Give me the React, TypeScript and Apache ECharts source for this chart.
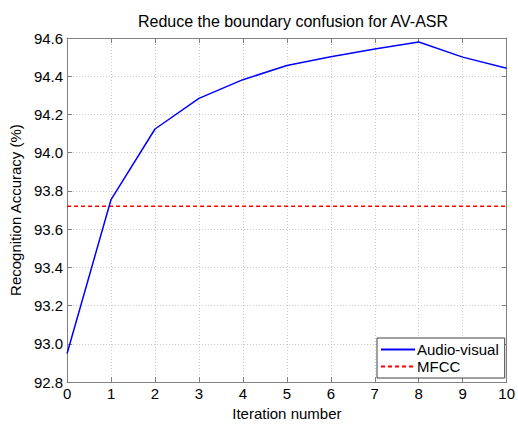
import React, { useEffect, useRef } from "react";
import * as echarts from "echarts";

const iterations = [0, 1, 2, 3, 4, 5, 6, 7, 8, 9, 10];
const audioVisual = [92.95, 93.755, 94.124, 94.284, 94.382, 94.456, 94.502, 94.542, 94.579, 94.5, 94.442];
const mfccValue = 93.72;
const seriesNames = ["Audio-visual", "MFCC"];
const titleText = "Reduce the boundary confusion for AV-ASR";
const xName = "Iteration number";
const yName = "Recognition Accuracy (%)";

const FONT = "Liberation Sans, Arial, sans-serif";

export default function App() {
  const ref = useRef<HTMLDivElement>(null);
  useEffect(() => {
    if (!ref.current) return;
    const chart = echarts.init(ref.current, null, { renderer: "svg" });
    const axisColor = "#808080";
    const gridLine = { show: true, lineStyle: { color: "#c8c8c8", type: [1, 2] as any, width: 1 } };
    const baseX = {
      type: "value" as const,
      min: 0,
      max: 10,
      interval: 1,
      axisLine: { show: true, onZero: false, lineStyle: { color: axisColor, width: 1 } },
      axisTick: { show: true, inside: true, length: 5, lineStyle: { color: axisColor } },
    };
    const baseY = {
      type: "value" as const,
      min: 92.8,
      max: 94.6,
      interval: 0.2,
      axisLine: { show: true, onZero: false, lineStyle: { color: axisColor, width: 1 } },
      axisTick: { show: true, inside: true, length: 5, lineStyle: { color: axisColor } },
    };
    chart.setOption({
      animation: false,
      backgroundColor: "#ffffff",
      textStyle: { fontFamily: FONT },
      title: {
        text: titleText,
        left: 288,
        textAlign: "center",
        top: 8,
        textStyle: { fontFamily: FONT, fontSize: 16, fontWeight: "normal", color: "#000" },
      },
      grid: { left: 65, right: 6, top: 38, bottom: 39, containLabel: false },
      xAxis: [
        {
          ...baseX,
          position: "bottom",
          name: xName,
          nameLocation: "middle",
          nameGap: 22,
          nameTextStyle: { fontFamily: FONT, fontSize: 15, color: "#000", verticalAlign: "top" },
          axisLabel: { show: true, margin: 4, fontFamily: FONT, fontSize: 15, color: "#000" },
          splitLine: gridLine,
        },
        {
          ...baseX,
          position: "top",
          axisLabel: { show: false },
          splitLine: { show: false },
        },
      ],
      yAxis: [
        {
          ...baseY,
          position: "left",
          name: yName,
          nameLocation: "middle",
          nameGap: 40,
          nameRotate: 90,
          nameTextStyle: { fontFamily: FONT, fontSize: 15, color: "#000" },
          axisLabel: {
            show: true,
            margin: 4,
            fontFamily: FONT,
            fontSize: 15,
            color: "#000",
            formatter: (v: number) => v.toFixed(1),
          },
          splitLine: gridLine,
        },
        {
          ...baseY,
          position: "right",
          axisLabel: { show: false },
          splitLine: { show: false },
        },
      ],
      legend: {
        show: true,
        orient: "vertical",
        left: 377,
        top: 338,
        width: 126,
        backgroundColor: "#ffffff",
        borderColor: "#404040",
        borderWidth: 1,
        padding: [4, 6, 4, 3],
        itemGap: 2,
        itemWidth: 34,
        itemHeight: 14,
        itemStyle: { opacity: 0 },
        textStyle: { fontFamily: FONT, fontSize: 15, color: "#000", padding: [0, 0, 0, -3] },
        data: seriesNames,
      },
      series: [
        {
          name: seriesNames[0],
          type: "line",
          data: iterations.map((x, i) => [x, audioVisual[i]]),
          symbol: "none",
          lineStyle: { color: "#0000ff", width: 1.5 },
          itemStyle: { color: "#0000ff" },
          z: 3,
        },
        {
          name: seriesNames[1],
          type: "line",
          data: iterations.map((x) => [x, mfccValue]),
          symbol: "none",
          lineStyle: { color: "#ff0000", width: 1.5, type: [4, 3] },
          itemStyle: { color: "#ff0000" },
          z: 2,
        },
      ],
    });
    return () => chart.dispose();
  }, []);
  return <div ref={ref} style={{ width: 518, height: 426, position: "absolute", left: 0, top: 0 }} />;
}
